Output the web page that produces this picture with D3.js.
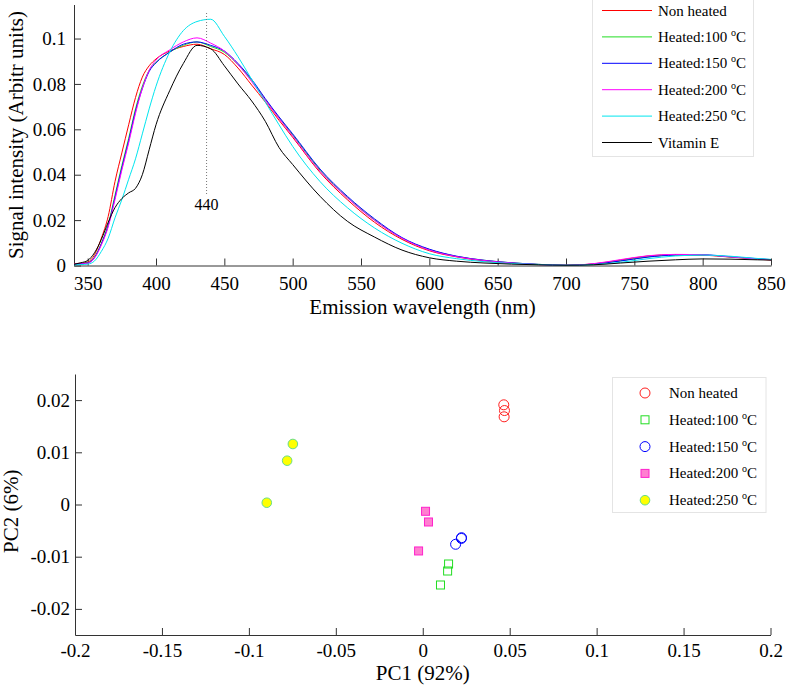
<!DOCTYPE html>
<html>
<head>
<meta charset="utf-8">
<script src="https://cdn.jsdelivr.net/npm/d3@7"></script>
<style>
  body { margin: 0; background: #fff; }
  svg, svg text { font-family: "Liberation Serif", "Times New Roman", Times, serif !important; }
</style>
</head>
<body>
<svg id="chart" width="786" height="687" font-family="Liberation Serif, serif"></svg>
<script>
// ---------- Top panel data: emission spectra ----------
const wavelengths = [340,345,350,355,360,365,370,375,380,385,390,395,400,410,420,430,440,450,460,470,480,490,500,520,540,560,580,600,620,640,660,680,700,720,740,760,780,800,820,840,850];
const nonHeated = [0.0008,0.001,0.0015,0.0047,0.012,0.0216,0.037,0.0496,0.062,0.074,0.083,0.088,0.091,0.0945,0.0965,0.0975,0.0955,0.093,0.087,0.0795,0.072,0.064,0.0565,0.041,0.029,0.019,0.0115,0.0065,0.0038,0.002,0.001,0.0004,0.0001,0.0007,0.0024,0.0042,0.0048,0.0046,0.0037,0.0028,0.0024];
const heated100 = [0.0005,0.0008,0.0012,0.0037,0.0098,0.018,0.031,0.044,0.056,0.069,0.079,0.086,0.0895,0.094,0.097,0.0985,0.0965,0.094,0.0885,0.0815,0.073,0.065,0.0575,0.042,0.030,0.020,0.012,0.007,0.004,0.0023,0.0012,0.0005,0.0001,0.0006,0.0021,0.0038,0.0046,0.0046,0.0038,0.0029,0.0025];
const heated150 = [0.0005,0.0008,0.0011,0.0035,0.0095,0.0175,0.030,0.043,0.055,0.068,0.078,0.0855,0.0893,0.094,0.0975,0.0985,0.097,0.0945,0.089,0.082,0.0735,0.0655,0.058,0.0425,0.0305,0.0205,0.0123,0.0072,0.0041,0.0023,0.0012,0.0005,0.0001,0.0006,0.002,0.0037,0.0046,0.0047,0.0039,0.003,0.0026];
const heated200 = [0.0005,0.0007,0.001,0.0033,0.009,0.017,0.029,0.042,0.054,0.067,0.078,0.086,0.0905,0.095,0.0985,0.1003,0.098,0.0945,0.0885,0.081,0.0728,0.0648,0.057,0.0415,0.0298,0.0198,0.012,0.0068,0.0039,0.0022,0.0011,0.0004,0.0001,0.0008,0.0026,0.0043,0.0049,0.0047,0.0038,0.0029,0.0025];
const heated250 = [0.0003,0.0004,0.0006,0.002,0.0062,0.012,0.021,0.029,0.038,0.047,0.058,0.069,0.079,0.094,0.1035,0.1075,0.1085,0.101,0.092,0.082,0.072,0.062,0.0525,0.037,0.0255,0.0165,0.0098,0.0052,0.003,0.0017,0.0009,0.0004,0.0001,0.0004,0.0014,0.003,0.0042,0.0046,0.0041,0.0031,0.0027];
const vitaminE = [0.0005,0.0012,0.0022,0.0056,0.0115,0.019,0.0255,0.0295,0.032,0.034,0.040,0.051,0.062,0.077,0.089,0.097,0.0955,0.088,0.080,0.0725,0.0635,0.052,0.0445,0.0305,0.0195,0.0125,0.0068,0.0034,0.0019,0.0011,0.0006,0.0003,0.0001,0.0003,0.0011,0.0019,0.0025,0.0029,0.0028,0.0025,0.0024];

const spectraNames = ["Non heated","Heated:100 ","Heated:150 ","Heated:200 ","Heated:250 ","Vitamin E"];
const spectraSuper = [false,true,true,true,true,false];
const spectraColors = ["#ff0000","#22dd22","#0000ff","#ff00ff","#00e5ee","#000000"];
const spectraValues = [nonHeated,heated100,heated150,heated200,heated250,vitaminE];

const topXTicks = [350,400,450,500,550,600,650,700,750,800,850];
const topYTicks = [0,0.02,0.04,0.06,0.08,0.1];
const peakMarker = 437;
const peakLabel = "440";

// ---------- Bottom panel data: PCA scores ----------
const pcaGroups = ["Non heated","Heated:100 ","Heated:150 ","Heated:200 ","Heated:250 "];
const pcaSuper = [false,true,true,true,true];
const pc1NonHeated = [0.0466,0.0470,0.0468];
const pc2NonHeated = [0.0191,0.0180,0.0168];
const pc1Heated100 = [0.01485,0.0143,0.0102];
const pc2Heated100 = [-0.0114,-0.01274,-0.01542];
const pc1Heated150 = [0.0223,0.0189,0.0222];
const pc2Heated150 = [-0.00636,-0.00762,-0.0065];
const pc1Heated200 = [0.0016,0.0033,-0.0024];
const pc2Heated200 = [-0.0013,-0.00335,-0.0089];
const pc1Heated250 = [-0.0747,-0.078,-0.0897];
const pc2Heated250 = [0.01159,0.00839,0.00034];
const pcaX = [pc1NonHeated,pc1Heated100,pc1Heated150,pc1Heated200,pc1Heated250];
const pcaY = [pc2NonHeated,pc2Heated100,pc2Heated150,pc2Heated200,pc2Heated250];
const pcaXTicks = [-0.2,-0.15,-0.1,-0.05,0,0.05,0.1,0.15,0.2];
const pcaYTicks = [-0.02,-0.01,0,0.01,0.02];

// ---------- Drawing ----------
const FONT = '"Liberation Serif", "Times New Roman", Times, serif';
const svg = d3.select("#chart");
const axisColor = "#333";
const tickFont = 19, titleFont = 21, legendFont = 15;

function styleAxis(g) {
  g.attr("font-family", FONT).attr("font-size", tickFont);
  g.selectAll(".domain").attr("stroke", axisColor).attr("stroke-width", 1);
  g.selectAll(".tick line").attr("stroke", axisColor);
  g.selectAll(".tick text").attr("fill", "#000").attr("font-size", tickFont)
    .style("font-family", FONT);
}
function fmt(v) { return d3.format("~g")(+v.toFixed(4)).replace("\u2212", "-"); }
function txt(parent) { return parent.append("text").style("font-family", FONT).attr("fill", "#000"); }

// ----- Top panel -----
const x1 = d3.scaleLinear().domain([340, 850]).range([74, 771]);
const y1 = d3.scaleLinear().domain([0, 0.115]).range([265.5, 4.5]);

const gx1 = svg.append("g").attr("transform", `translate(0,${y1(0)})`)
  .call(d3.axisBottom(x1).tickValues(topXTicks).tickSizeInner(-7).tickSizeOuter(0).tickPadding(11).tickFormat(fmt));
styleAxis(gx1);
const gy1 = svg.append("g").attr("transform", `translate(${x1(340)},0)`)
  .call(d3.axisLeft(y1).tickValues(topYTicks).tickSizeInner(-7).tickSizeOuter(0).tickPadding(8).tickFormat(fmt));
styleAxis(gy1);

const line1 = d3.line().x((d, i) => x1(wavelengths[i])).y(d => y1(d)).curve(d3.curveMonotoneX);
spectraValues.forEach((vals, k) => {
  svg.append("path").datum(vals).attr("d", line1)
    .attr("fill", "none").attr("stroke", spectraColors[k]).attr("stroke-width", 1);
});

// peak marker
svg.append("line").attr("x1", x1(peakMarker)).attr("x2", x1(peakMarker))
  .attr("y1", 13).attr("y2", 195).attr("stroke", "#777").attr("stroke-width", 1)
  .attr("stroke-dasharray", "1,2");
txt(svg).attr("x", x1(peakMarker)).attr("y", 210).attr("text-anchor", "middle")
  .attr("font-size", 16).text(peakLabel);

// axis titles
txt(svg).attr("x", x1(595)).attr("y", 314).attr("text-anchor", "middle")
  .attr("font-size", titleFont).text("Emission wavelength (nm)");
txt(svg).attr("transform", "translate(23,135) rotate(-90)").attr("text-anchor", "middle")
  .attr("font-size", titleFont).text("Signal intensity (Arbitr units)");

// top legend
const lg1 = svg.append("g");
lg1.append("rect").attr("x", 592.5).attr("y", -1).attr("width", 161).attr("height", 157.5)
  .attr("fill", "#fff").attr("stroke", "#e4e4e4");
spectraNames.forEach((name, k) => {
  const yy = 10.5 + k * 26.4;
  lg1.append("line").attr("x1", 602).attr("x2", 652).attr("y1", yy).attr("y2", yy)
    .attr("stroke", spectraColors[k]).attr("stroke-width", 1);
  const t = txt(lg1).attr("x", 658).attr("y", yy + 5).attr("font-size", legendFont).text(name);
  if (spectraSuper[k]) {
    t.append("tspan").attr("dy", -6).attr("font-size", 10).text("o");
    t.append("tspan").attr("dy", 6).text("C");
  }
});

// ----- Bottom panel -----
const x2 = d3.scaleLinear().domain([-0.2, 0.2]).range([75, 770.5]);
const y2 = d3.scaleLinear().domain([-0.025, 0.025]).range([635, 374]);

const gx2 = svg.append("g").attr("transform", `translate(0,${y2(-0.025)})`)
  .call(d3.axisBottom(x2).tickValues(pcaXTicks).tickSizeInner(-7).tickSizeOuter(0).tickPadding(9).tickFormat(fmt));
styleAxis(gx2);
const gy2 = svg.append("g").attr("transform", `translate(${x2(-0.2)},0)`)
  .call(d3.axisLeft(y2).tickValues(pcaYTicks).tickSizeInner(-7).tickSizeOuter(0).tickPadding(5).tickFormat(fmt));
styleAxis(gy2);

function drawMarker(g, k, cx, cy) {
  if (k === 0) {
    g.append("circle").attr("cx", cx).attr("cy", cy).attr("r", 5)
      .attr("fill", "none").attr("stroke", "#ff2020").attr("stroke-width", 1);
  } else if (k === 1) {
    g.append("rect").attr("x", cx - 4).attr("y", cy - 4).attr("width", 8).attr("height", 8)
      .attr("fill", "none").attr("stroke", "#22dd22").attr("stroke-width", 1);
  } else if (k === 2) {
    g.append("circle").attr("cx", cx).attr("cy", cy).attr("r", 5)
      .attr("fill", "none").attr("stroke", "#0000ff").attr("stroke-width", 1);
  } else if (k === 3) {
    g.append("rect").attr("x", cx - 4).attr("y", cy - 4).attr("width", 8).attr("height", 8)
      .attr("fill", "#ff7fd0").attr("stroke", "#ff22cc").attr("stroke-width", 1);
  } else {
    g.append("circle").attr("cx", cx).attr("cy", cy).attr("r", 4.8)
      .attr("fill", "#ffff00").attr("stroke", "#66dd88").attr("stroke-width", 1);
  }
}

const pts = svg.append("g");
pcaGroups.forEach((name, k) => {
  pcaX[k].forEach((xv, i) => drawMarker(pts, k, x2(xv), y2(pcaY[k][i])));
});

txt(svg).attr("x", x2(0)).attr("y", 680).attr("text-anchor", "middle")
  .attr("font-size", titleFont).text("PC1 (92%)");
txt(svg).attr("transform", `translate(18,${y2(-0.0013)}) rotate(-90)`).attr("text-anchor", "middle")
  .attr("font-size", titleFont).text("PC2 (6%)");

// bottom legend
const lg2 = svg.append("g");
lg2.append("rect").attr("x", 612.5).attr("y", 377.5).attr("width", 153.5).attr("height", 135)
  .attr("fill", "#fff").attr("stroke", "#e4e4e4");
pcaGroups.forEach((name, k) => {
  const yy = 393 + k * 26.8;
  drawMarker(lg2, k, 645, yy);
  const t = txt(lg2).attr("x", 669).attr("y", yy + 5).attr("font-size", legendFont).text(name);
  if (pcaSuper[k]) {
    t.append("tspan").attr("dy", -6).attr("font-size", 10).text("o");
    t.append("tspan").attr("dy", 6).text("C");
  }
});
</script>
</body>
</html>
